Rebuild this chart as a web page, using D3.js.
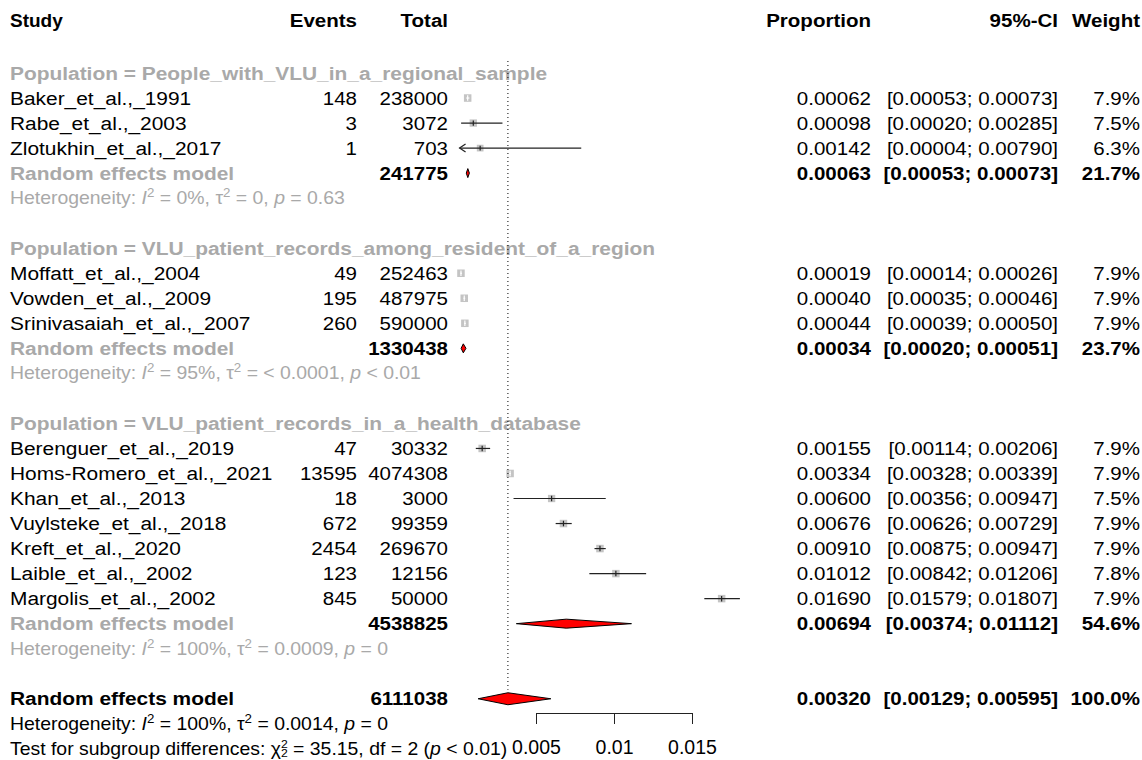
<!DOCTYPE html>
<html>
<head>
<meta charset="utf-8">
<script src="https://cdn.jsdelivr.net/npm/d3@7"></script>
<style>
  body { margin: 0; background: #fff; }
  text { font-family: "Liberation Sans", Arial, sans-serif; }
</style>
</head>
<body>
<svg id="chart" width="1142" height="760"></svg>
<script>
// study level data
const groupNames = ["People_with_VLU_in_a_regional_sample",
                    "VLU_patient_records_among_resident_of_a_region",
                    "VLU_patient_records_in_a_health_database"];
const studyNames = ["Baker_et_al.,_1991", "Rabe_et_al.,_2003", "Zlotukhin_et_al.,_2017",
                    "Moffatt_et_al.,_2004", "Vowden_et_al.,_2009", "Srinivasaiah_et_al.,_2007",
                    "Berenguer_et_al.,_2019", "Homs-Romero_et_al.,_2021", "Khan_et_al.,_2013",
                    "Vuylsteke_et_al.,_2018", "Kreft_et_al.,_2020", "Laible_et_al.,_2002",
                    "Margolis_et_al.,_2002"];
const studyGroup = [0, 0, 0, 1, 1, 1, 2, 2, 2, 2, 2, 2, 2];
const events = [148, 3, 1, 49, 195, 260, 47, 13595, 18, 672, 2454, 123, 845];
const totals = [238000, 3072, 703, 252463, 487975, 590000, 30332, 4074308, 3000, 99359, 269670, 12156, 50000];
const props  = [0.00062, 0.00098, 0.00142, 0.00019, 0.00040, 0.00044, 0.00155, 0.00334, 0.00600, 0.00676, 0.00910, 0.01012, 0.01690];
const lowers = [0.00053, 0.00020, 0.00004, 0.00014, 0.00035, 0.00039, 0.00114, 0.00328, 0.00356, 0.00626, 0.00875, 0.00842, 0.01579];
const uppers = [0.00073, 0.00285, 0.00790, 0.00026, 0.00046, 0.00050, 0.00206, 0.00339, 0.00947, 0.00729, 0.00947, 0.01206, 0.01807];
const weights = [7.9, 7.5, 6.3, 7.9, 7.9, 7.9, 7.9, 7.9, 7.5, 7.9, 7.9, 7.8, 7.9];

// subgroup random effects models
const subTotals = [241775, 1330438, 4538825];
const subProps  = [0.00063, 0.00034, 0.00694];
const subLowers = [0.00053, 0.00020, 0.00374];
const subUppers = [0.00073, 0.00051, 0.01112];
const subWeights = [21.7, 23.7, 54.6];
const subI2   = ["0%", "95%", "100%"];
const subTau2 = ["0", "< 0.0001", "0.0009"];
const subP    = ["= 0.63", "< 0.01", "= 0"];

// overall model
const overallTotal = 6111038;
const overallProp = 0.00320, overallLower = 0.00129, overallUpper = 0.00595, overallWeight = 100.0;
const overallI2 = "100%", overallTau2 = "0.0014", overallP = "= 0";
const testChi2 = "35.15", testDf = "2", testP = "< 0.01";

const xTicks = [0.005, 0.01, 0.015];
const xLimitLow = 0.0001;

const svg = d3.select("#chart");
const fs = 19, fsSmall = 17.5;
const grey = "#a9a9a9";

const x = d3.scaleLinear().domain([0, 0.015]).range([458, 692]);
const sq = d3.scaleSqrt().domain([0, 7.9]).range([0, 7.5]);

// build rows
let rows = [];
groupNames.forEach(function(g, gi) {
    rows.push({type: "title", g: gi});
    studyNames.forEach(function(s, i) {
        if (studyGroup[i] == gi) rows.push({type: "study", i: i});
    });
    rows.push({type: "sub", g: gi});
    rows.push({type: "het", g: gi});
    rows.push({type: "blank"});
});
rows.push({type: "overall"});
rows.push({type: "ohet"});
rows.push({type: "test"});

const y = d3.scaleLinear().domain([0, rows.length - 1]).range([73, 73 + 25.03 * (rows.length - 1)]);

const fmtP = d3.format(".5f");
const fmtW = function(w) { return d3.format(".1f")(w) + "%"; };
const ci = function(l, u) { return "[" + fmtP(l) + "; " + fmtP(u) + "]"; };

const colX = {events: 357, total: 448, prop: 871, ci: 1058, weight: 1140};

// text helper; sx stretches horizontally around the anchor point
function txt(xp, yp, s, opts) {
    opts = opts || {};
    const sx = opts.sx || (opts.bold ? 1.08 : 1);
    return svg.append("text")
        .attr("transform", "translate(" + xp + "," + yp + ") scale(" + sx + ",1)")
        .attr("dy", "0.35em")
        .attr("text-anchor", opts.anchor || "start")
        .style("font-size", (opts.size || fs) + "px")
        .style("font-weight", opts.bold ? "bold" : "normal")
        .style("fill", opts.fill || "#000")
        .text(s);
}
const num = {anchor: "end", sx: 1.08};
const labelSx = 1.1;

// header
txt(10, 20, "Study", {bold: true, sx: 1.0});
txt(colX.events, 20, "Events", {bold: true, anchor: "end"});
txt(colX.total, 20, "Total", {bold: true, anchor: "end"});
txt(colX.prop, 20, "Proportion", {bold: true, anchor: "end"});
txt(colX.ci, 20, "95%-CI", {bold: true, anchor: "end"});
txt(colX.weight, 20, "Weight", {bold: true, anchor: "end"});

const smallSx = 1.11;
function hetText(yp, i2, tau2, p, fill) {
    const t = svg.append("text")
        .attr("transform", "translate(10," + yp + ") scale(" + smallSx + ",1)")
        .attr("dy", "0.35em")
        .style("font-size", fsSmall + "px").style("fill", fill);
    t.append("tspan").text("Heterogeneity: ");
    t.append("tspan").style("font-style", "italic").text("I");
    t.append("tspan").attr("dy", -7).style("font-size", "12px").text("2");
    t.append("tspan").attr("dy", 7).text(" = " + i2 + ", ");
    t.append("tspan").text("τ");
    t.append("tspan").attr("dy", -7).style("font-size", "12px").text("2");
    t.append("tspan").attr("dy", 7).text(" = " + tau2 + ", ");
    t.append("tspan").style("font-style", "italic").text("p");
    t.append("tspan").text(" " + p);
}

function diamond(yp, p, l, u, h) {
    svg.append("polygon")
        .attr("points", [[x(l), yp], [x(p), yp - h / 2], [x(u), yp], [x(p), yp + h / 2]].join(" "))
        .attr("fill", "#ff0000").attr("stroke", "#000").attr("stroke-width", 1);
}

const marks = svg.append("g");

rows.forEach(function(r, ri) {
    const yp = y(ri);
    if (r.type == "title") {
        txt(10, yp, "Population = " + groupNames[r.g], {bold: true, fill: grey, sx: labelSx});
    } else if (r.type == "study") {
        const i = r.i;
        txt(10, yp, studyNames[i], {sx: labelSx});
        txt(colX.events, yp, events[i], num);
        txt(colX.total, yp, totals[i], num);
        txt(colX.prop, yp, fmtP(props[i]), num);
        txt(colX.ci, yp, ci(lowers[i], uppers[i]), num);
        txt(colX.weight, yp, fmtW(weights[i]), num);

        const s = sq(weights[i]);
        const cx = x(props[i]);
        marks.append("rect")
            .attr("x", cx - s / 2).attr("y", yp - s / 2)
            .attr("width", s).attr("height", s)
            .attr("fill", "#c4c4c4");
        const inside = x(lowers[i]) > cx - s / 2 && x(uppers[i]) < cx + s / 2;
        const lineCol = inside ? "#fff" : "#222";
        const lo = Math.max(lowers[i], xLimitLow);
        marks.append("line")
            .attr("x1", x(lo)).attr("x2", x(uppers[i]))
            .attr("y1", yp).attr("y2", yp)
            .attr("stroke", lineCol).attr("stroke-width", 1.2);
        marks.append("line")
            .attr("x1", cx).attr("x2", cx)
            .attr("y1", yp - s / 2 + 1).attr("y2", yp + s / 2 - 1)
            .attr("stroke", lineCol).attr("stroke-width", 1.2);
        if (lowers[i] < xLimitLow) {
            const ax = x(xLimitLow);
            marks.append("path")
                .attr("d", "M" + (ax + 6) + "," + (yp - 4) + "L" + ax + "," + yp + "L" + (ax + 6) + "," + (yp + 4))
                .attr("fill", "none").attr("stroke", "#222").attr("stroke-width", 1.2);
        }
    } else if (r.type == "sub") {
        const g = r.g;
        txt(10, yp, "Random effects model", {bold: true, fill: grey, sx: labelSx});
        txt(colX.total, yp, subTotals[g], {bold: true, anchor: "end"});
        txt(colX.prop, yp, fmtP(subProps[g]), {bold: true, anchor: "end"});
        txt(colX.ci, yp, ci(subLowers[g], subUppers[g]), {bold: true, anchor: "end"});
        txt(colX.weight, yp, fmtW(subWeights[g]), {bold: true, anchor: "end"});
        diamond(yp, subProps[g], subLowers[g], subUppers[g], 9);
    } else if (r.type == "het") {
        hetText(yp, subI2[r.g], subTau2[r.g], subP[r.g], grey);
    } else if (r.type == "overall") {
        txt(10, yp, "Random effects model", {bold: true, sx: labelSx});
        txt(colX.total, yp, overallTotal, {bold: true, anchor: "end"});
        txt(colX.prop, yp, fmtP(overallProp), {bold: true, anchor: "end"});
        txt(colX.ci, yp, ci(overallLower, overallUpper), {bold: true, anchor: "end"});
        txt(colX.weight, yp, fmtW(overallWeight), {bold: true, anchor: "end"});
        diamond(yp, overallProp, overallLower, overallUpper, 12);
    } else if (r.type == "ohet") {
        hetText(yp, overallI2, overallTau2, overallP, "#000");
    } else if (r.type == "test") {
        const t = svg.append("text")
            .attr("transform", "translate(10," + yp + ") scale(" + smallSx + ",1)")
            .attr("dy", "0.35em")
            .style("font-size", fsSmall + "px").style("fill", "#000");
        t.append("tspan").text("Test for subgroup differences: ");
        t.append("tspan").text("χ");
        t.append("tspan").attr("dy", -7).style("font-size", "11px").text("2");
        t.append("tspan").attr("dy", 7).text(" = " + testChi2 + ", df = " + testDf + " (");
        t.append("tspan").style("font-style", "italic").text("p");
        t.append("tspan").text(" " + testP + ")");
        // subscript under the superscript
        const nChars = "Test for subgroup differences: χ".length;
        const pos = t.node().getStartPositionOfChar(nChars);
        svg.append("text")
            .attr("transform", "translate(10," + (yp + 4) + ") scale(" + smallSx + ",1)")
            .attr("x", pos.x).attr("dy", "0.35em")
            .style("font-size", "11px").text(testDf);
    }
});

// dotted reference line at the overall estimate
svg.append("line")
    .attr("x1", x(overallProp)).attr("x2", x(overallProp))
    .attr("y1", y(0) - 12).attr("y2", y(rows.length - 3) - 9)
    .attr("stroke", "#000").attr("stroke-width", 1)
    .attr("stroke-dasharray", "1,3");

// x axis
const xa = x.copy().domain([xTicks[0], xTicks[xTicks.length - 1]])
    .range([x(xTicks[0]), x(xTicks[xTicks.length - 1])]);
const axis = svg.append("g")
    .attr("transform", "translate(0,713)")
    .call(d3.axisBottom(xa).tickValues(xTicks).tickSize(11).tickSizeOuter(0).tickPadding(16)
        .tickFormat(function(d) { return String(d); }));
axis.selectAll("text").style("font-size", "19.5px").style("font-family", "'Liberation Sans', Arial, sans-serif").attr("fill", "#000");
axis.selectAll("line").attr("stroke", "#222");
axis.select(".domain").attr("stroke", "#222");
</script>
</body>
</html>
